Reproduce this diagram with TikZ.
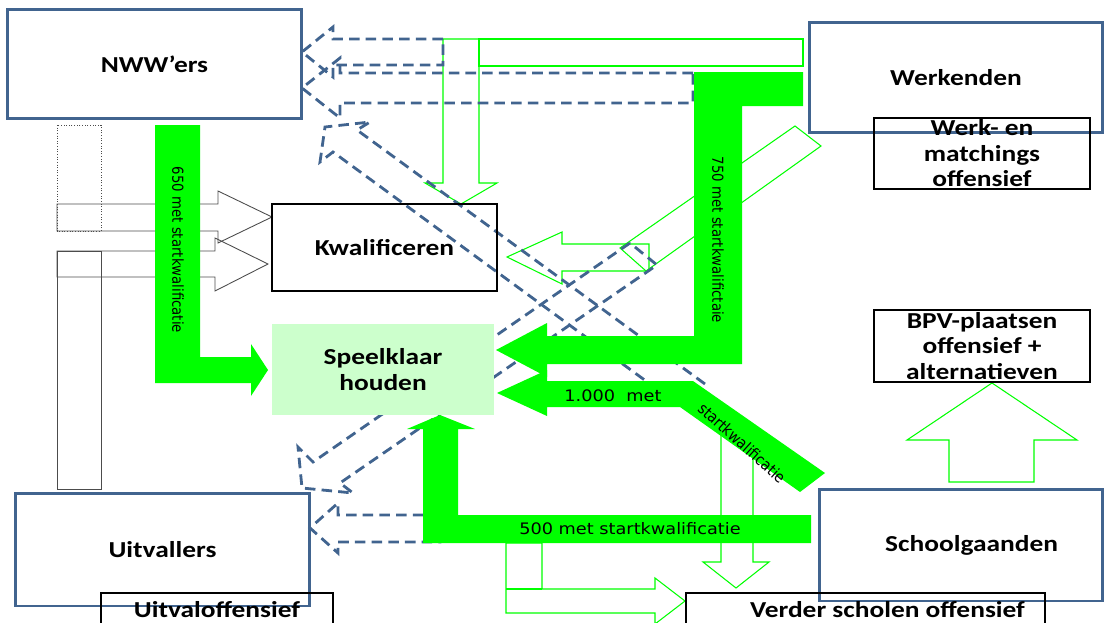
\documentclass[tikz,border=0pt]{standalone}
\usepackage{fontspec}
\newfontfamily\lblfont{Carlito}[FakeStretch=1.2]
\newfontfamily\numfont{DejaVu Sans}[FakeStretch=1.12]
\newfontfamily\rotfont{DejaVu Sans}[FakeStretch=0.88]
\definecolor{grpblue}{RGB}{65,100,143}
\definecolor{flowgreen}{RGB}{0,255,0}
\definecolor{paleg}{RGB}{204,255,204}
\begin{document}
\begin{tikzpicture}[x=0.02cm,y=-0.02cm]
\tikzstyle{grp}= [rectangle,draw=grpblue,line width=1.7pt,inner sep=0pt,align=center,font=\lblfont\bfseries\fontsize{13}{14.5}\selectfont]
\tikzstyle{off}= [rectangle,draw=black,line width=0.8pt,inner sep=0pt,align=center,font=\lblfont\bfseries\fontsize{13}{14.5}\selectfont]
\tikzstyle{wit}= [draw=black!70,line width=0.5pt]
\tikzstyle{hol}= [draw=flowgreen,line width=0.6pt]
\tikzstyle{lost}= [draw=grpblue,line width=1.6pt,dash pattern=on 6pt off 3.5pt]
\tikzstyle{fat}= [fill=flowgreen]
\tikzstyle{fattxt}= [inner sep=0pt,font=\numfont\fontsize{9}{10}\selectfont]
\tikzstyle{rottxt}= [inner sep=0pt,rotate=-90,font=\rotfont\fontsize{8.6}{10}\selectfont]

\clip (0,0) rectangle (1105,622);

% witte pijlen links
\draw[wit,densely dotted] (57,125) rectangle (101,231);
\draw[wit] (57,251) rectangle (101,489);
\draw[wit] (57,204) -- (218,204) -- (218,191) -- (272,217) -- (218,243) -- (218,231) -- (57,231) -- cycle;
\draw[wit] (57,251) -- (215,251) -- (215,238) -- (268,264) -- (215,291) -- (215,277) -- (57,277) -- cycle;

% groene open pijlen
\draw[hol] (479,39) rectangle (803,66);
\draw[hol] (443,39) -- (479,39) -- (479,183) -- (497,183) -- (461,204) -- (425,183) -- (443,183) -- cycle;
\draw[hol] (795,126) -- (821,146) -- (646,271) -- (620,248) -- cycle;
\draw[hol] (649,244) -- (562,244) -- (562,232) -- (507,257) -- (562,284) -- (562,271) -- (649,271) -- cycle;
\draw[hol] (721,428) -- (753,428) -- (753,562) -- (769,562) -- (736,588) -- (703,562) -- (721,562) -- cycle;
\draw[hol] (506,543) -- (542,543) -- (542,589) -- (655,589) -- (655,578) -- (685,601) -- (655,624) -- (655,613) -- (506,613) -- cycle;
\draw[hol] (506,589) -- (542,589);
\draw[hol] (949,482) -- (949,440) -- (907,440) -- (992,383) -- (1077,440) -- (1034,440) -- (1034,482) -- cycle;

% uitstroom (gestippeld)
\draw[lost] (443,39) -- (333,39) -- (333,27) -- (302,52) -- (333,77) -- (333,65) -- (443,65) -- cycle;
\draw[lost] (693,73) -- (340,73) -- (340,58) -- (302,88) -- (340,118) -- (340,103) -- (693,103) -- cycle;
\draw[lost] (705,384) -- (357,130) -- (370,122) -- (325,127) -- (320,162) -- (333,152) -- (676,403);
\draw[lost] (630,243) -- (313,462) -- (298,447) -- (302,488) -- (353,493) -- (340,483) -- (657,265) -- cycle;
\draw[lost] (440,515) -- (338,515) -- (338,503) -- (310,528) -- (338,553) -- (338,542) -- (440,542) -- cycle;

\path
	(383,369.5) node[rectangle,fill=paleg,minimum width=4.44cm,minimum height=1.82cm,inner sep=0pt,align=center,font=\lblfont\bfseries\fontsize{13}{14.5}\selectfont] (speel) {Speelklaar\\houden}
	(384.5,247.5) node[off,minimum width=4.5cm,minimum height=1.74cm] (kwal) {Kwalificeren}
;

% volle groene pijlen
\fill[fat] (155,125) -- (200,125) -- (200,357) -- (251,357) -- (251,344) -- (268,370) -- (251,396) -- (251,383) -- (155,383) -- cycle;
\fill[fat] (803,72) -- (694,72) -- (694,336) -- (547,336) -- (547,323) -- (496,350) -- (547,377) -- (547,364) -- (742,364) -- (742,106) -- (803,106) -- cycle;
\fill[fat] (497,393) -- (547,370) -- (547,381) -- (693,381) -- (825,473) -- (800,492) -- (680,407) -- (547,407) -- (547,416) -- cycle;
\fill[fat] (440,415) -- (475,429) -- (458,429) -- (458,515) -- (811,515) -- (811,543) -- (423,543) -- (423,429) -- (407,429) -- cycle;

\path
	(178,250) node[rottxt] (t650) {650 met startkwalificatie}
	(718,240) node[rottxt] (t750) {750 met startkwalifictaie}
	(613,396) node[fattxt] (t1000) {1.000~~met}
	(742,443) node[inner sep=0pt,rotate=-42,font=\rotfont\fontsize{9}{10}\selectfont] (t1000b) {startkwalificatie}
	(630,529) node[fattxt] (t500) {500 met startkwalificatie}
;

% groepen en offensieven
\path
	(154.5,64) node[grp,minimum width=5.9cm,minimum height=2.2cm] (nww) {NWW’ers}
	(956,77.5) node[grp,minimum width=5.88cm,minimum height=2.22cm] (werk) {Werkenden}
	(982,153.5) node[off,minimum width=4.32cm,minimum height=1.42cm] (werkoff) {Werk- en\\matchings\\offensief}
	(982,346) node[off,minimum width=4.32cm,minimum height=1.44cm] (bpv) {BPV-plaatsen\\offensief +\\alternatieven}
	(162.5,549.5) node[grp,minimum width=5.9cm,minimum height=2.26cm] (uitv) {Uitvallers}
	(961,545) node[grp,minimum width=5.68cm,minimum height=2.24cm] (school) {\hspace*{12pt}Schoolgaanden}
	(217,610) node[off,minimum width=4.64cm,minimum height=0.68cm] (uitvoff) {Uitvaloffensief}
	(865.5,610) node[off,minimum width=7.18cm,minimum height=0.68cm] (verder) {\hspace*{25pt}Verder scholen offensief}
;
\end{tikzpicture}
\end{document}
